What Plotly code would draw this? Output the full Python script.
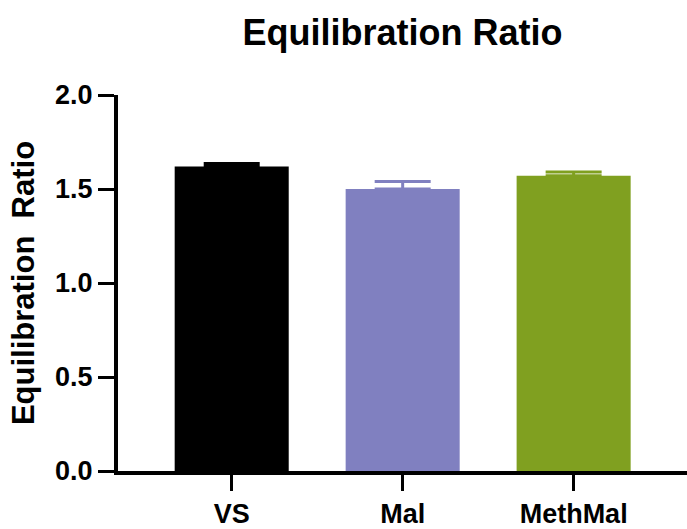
import plotly.graph_objects as go

# Group means and upper SEM for the equilibration ratio
groups = ["VS", "Mal", "MethMal"]
ratio_mean = [1.62, 1.50, 1.57]
ratio_sem = [0.015, 0.04, 0.02]
bar_colors = ["#000000", "#8080C0", "#80A020"]

y_ticks = [0.0, 0.5, 1.0, 1.5, 2.0]

FONT = "Liberation Sans, Arial, Helvetica, sans-serif"

fig = go.Figure()
# one trace per group so each error bar takes its bar's colour
for name, mean, sem, color in zip(groups, ratio_mean, ratio_sem, bar_colors):
    fig.add_trace(
        go.Bar(
            x=[name],
            y=[mean],
            name=name,
            marker=dict(color=color, line=dict(width=0)),
            error_y=dict(
                type="data",
                symmetric=False,
                array=[sem],
                arrayminus=[0],
                color=color,
                thickness=3,
                width=28,
            ),
            showlegend=False,
        )
    )

tick_font = dict(size=27, family=FONT, color="black", weight="bold")

fig.update_layout(
    width=687,
    height=529,
    margin=dict(l=118, r=0, t=95, b=51),
    paper_bgcolor="white",
    plot_bgcolor="white",
    barmode="overlay",
    bargap=0.333,
    font=dict(family=FONT, color="black"),
    title=dict(
        text="<b>Equilibration Ratio</b>",
        font=dict(size=36, family=FONT, color="black"),
        x=0.5,
        xref="paper",
        xanchor="center",
        y=1 - 32 / 529,
        yref="container",
        yanchor="middle",
    ),
    xaxis=dict(
        range=[-0.665, 2.663],
        showline=True,
        linecolor="black",
        linewidth=4,
        ticks="outside",
        ticklen=16,
        tickwidth=3,
        tickcolor="black",
        tickfont=tick_font,
        showgrid=False,
        zeroline=False,
    ),
    yaxis=dict(
        range=[0, 2],
        tickvals=y_ticks,
        tickformat=".1f",
        showline=True,
        linecolor="black",
        linewidth=4,
        ticks="outside",
        ticklen=16,
        tickwidth=3,
        tickcolor="black",
        tickfont=tick_font,
        showgrid=False,
        zeroline=False,
        title=dict(
            text="<b>Equilibration  Ratio</b>",
            font=dict(size=31, family=FONT, color="black"),
            standoff=12,
        ),
    ),
)

fig.write_html("out.html")
